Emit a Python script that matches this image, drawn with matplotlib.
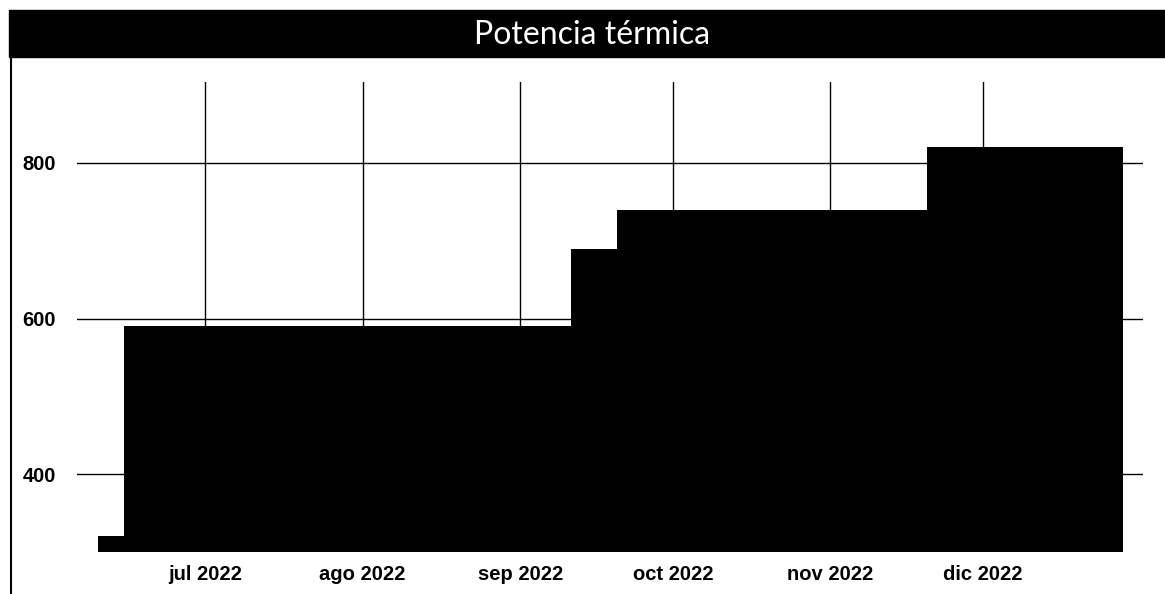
import matplotlib
matplotlib.use('Agg')
import matplotlib.pyplot as plt
import matplotlib.dates as mdates
from matplotlib.patches import Rectangle
from matplotlib.lines import Line2D
import numpy as np

# potencia contratada por tramo (kW)
step_dates = ['2022-06-10', '2022-06-15', '2022-09-11', '2022-09-20', '2022-11-20', '2022-12-28 12:00']
step_values = [320, 590, 690, 740, 820, 820]

month_ticks = ['2022-07-01', '2022-08-01', '2022-09-01', '2022-10-01', '2022-11-01', '2022-12-01']
month_labels = ['jul 2022', 'ago 2022', 'sep 2022', 'oct 2022', 'nov 2022', 'dic 2022']
y_ticks = [400, 600, 800]

dates = mdates.datestr2num(step_dates)
ticks = mdates.datestr2num(month_ticks)

fig = plt.figure(figsize=(11.65, 5.94), dpi=100)
ax = fig.add_axes([77 / 1165, 1 - 552 / 594, (1143 - 77) / 1165, (552 - 82) / 594])

ax.fill_between(dates, step_values, 300, step='post', color='black', linewidth=0, zorder=2)

ax.set_xlim(mdates.datestr2num('2022-06-05 20:00'), mdates.datestr2num('2023-01-01 11:00'))
ax.set_ylim(300, 904)

ax.set_xticks(ticks)
ax.set_xticklabels(month_labels)
ax.set_yticks(y_ticks)
ax.set_yticklabels([str(v) for v in y_ticks])
ax.tick_params(length=0)
ax.tick_params(axis='x', pad=9)
ax.tick_params(axis='y', pad=15)
for lab in ax.get_xticklabels() + ax.get_yticklabels():
    lab.set_fontfamily('Liberation Sans')
    lab.set_fontweight('bold')
    lab.set_fontsize(14.5)

ax.grid(True, color='black', linewidth=1.0, zorder=1)
ax.set_axisbelow(True)
for s in ax.spines.values():
    s.set_visible(False)

# barra de titulo
fig.patches.append(Rectangle((9 / 1165, 1 - 57 / 594), 1, 47 / 594,
                             transform=fig.transFigure, color='black', zorder=0))
fig.text(592 / 1165, 1 - 35 / 594, 'Potencia térmica', color='white',
         fontsize=23, family='Lato', ha='center', va='center')
fig.lines.append(Line2D([10.5 / 1165, 10.5 / 1165], [0, 1 - 57 / 594],
                        transform=fig.transFigure, color='black', linewidth=1.5))

fig.savefig('out.png', dpi=100)
